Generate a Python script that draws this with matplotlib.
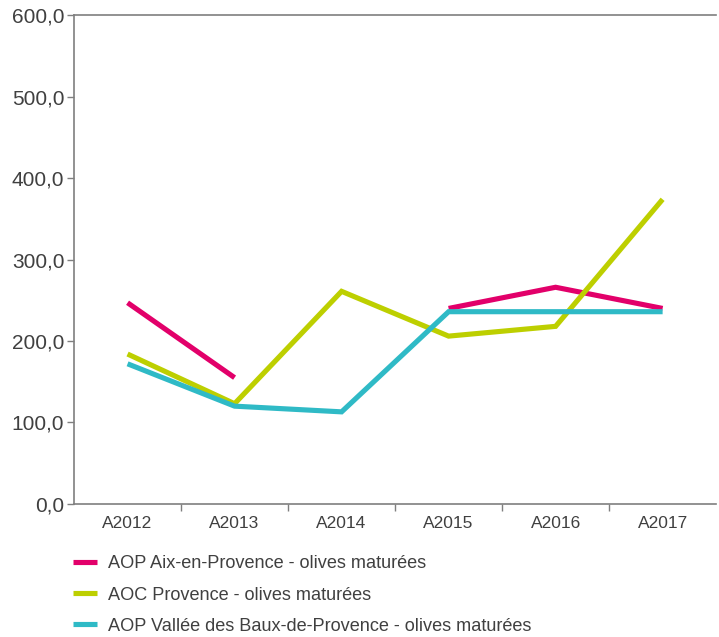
import matplotlib
matplotlib.use("Agg")
import matplotlib.pyplot as plt
import numpy as np

years = ["A2012", "A2013", "A2014", "A2015", "A2016", "A2017"]
aix = [247, 155, np.nan, 240, 266, 240]
aoc = [184, 123, 261, 206, 218, 374]
baux = [172, 120, 113, 236, 236, 236]
labels = [
    "AOP Aix-en-Provence - olives maturées",
    "AOC Provence - olives maturées",
    "AOP Vallée des Baux-de-Provence - olives maturées",
]
colors = ["#E2006A", "#BDCF00", "#2FBAC6"]
yticks = [0, 100, 200, 300, 400, 500, 600]

plt.rcParams["font.family"] = ["Liberation Sans", "DejaVu Sans"]
text_col = "#404040"
axis_col = "#7f7f7f"

fig = plt.figure(figsize=(7.19, 6.37), dpi=100)
ax = fig.add_axes([0.103, 0.209, 0.893, 0.767])

x = np.arange(len(years))
for vals, lab, c in zip([aix, aoc, baux], labels, colors):
    ax.plot(x, vals, color=c, lw=3.7, label=lab, solid_capstyle="butt",
            solid_joinstyle="miter")

ax.set_xlim(-0.5, len(years) - 0.5)
ax.set_ylim(0, 600)
ax.set_yticks(yticks)
ax.set_yticklabels([f"{v:.1f}".replace(".", ",") for v in yticks],
                   fontsize=15, color=text_col)
ax.set_xticks(x)
ax.set_xticklabels(years, fontsize=12.5, color=text_col)
ax.set_xticks(np.arange(0.5, len(years) - 1, 1), minor=True)
ax.tick_params(axis="x", which="major", length=0, pad=9)
ax.tick_params(axis="x", which="minor", length=5, color=axis_col, width=1)
ax.tick_params(axis="y", length=5, color=axis_col, width=1, pad=2)

ax.spines["right"].set_visible(False)
for s in ["left", "bottom", "top"]:
    ax.spines[s].set_color(axis_col)
    ax.spines[s].set_linewidth(1.2)

ax.legend(loc="upper left", bbox_to_anchor=(-0.027, -0.072), frameon=False,
          fontsize=13.1, labelcolor=text_col, handlelength=1.3,
          handletextpad=0.6, labelspacing=0.78)

fig.savefig("out.png", dpi=100)
